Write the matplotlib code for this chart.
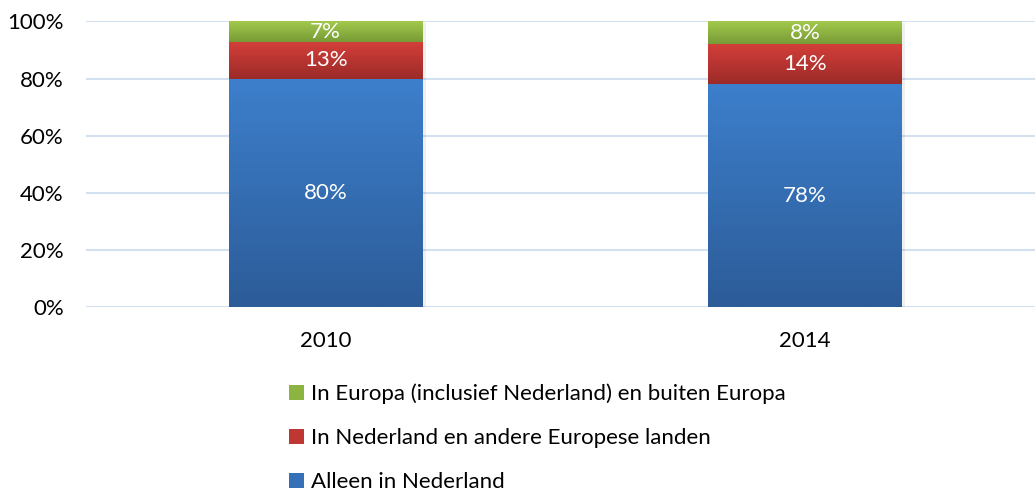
import numpy as np
import matplotlib.pyplot as plt
from matplotlib.patches import Patch
from matplotlib.colors import LinearSegmentedColormap

plt.rcParams['font.family'] = ['Lato', 'DejaVu Sans']

# Data
years = ['2010', '2014']
alleen_nl = [80, 78]
nl_europa = [13, 14]
buiten_europa = [7, 8]

series = [
    (alleen_nl, 'Alleen in Nederland', ('#3D7FCC', '#2C5C98')),
    (nl_europa, 'In Nederland en andere Europese landen', ('#D43F3A', '#9C2B28')),
    (buiten_europa, 'In Europa (inclusief Nederland) en buiten Europa', ('#A2C94C', '#789B36')),
]

fig = plt.figure(figsize=(10.35, 4.93), dpi=100)
ax = fig.add_axes([0.0831, 0.3763, 0.9169, 0.5801])

x = np.arange(len(years))
width = 0.403
bottom = np.zeros(len(years))
grad = np.linspace(1, 0, 100).reshape(-1, 1)

for vals, label, (c_top, c_bot) in series:
    vals = np.array(vals, dtype=float)
    bars = ax.bar(x, vals, width, bottom=bottom, color=c_top, label=label,
                  zorder=3, linewidth=0)
    cmap = LinearSegmentedColormap.from_list(label, [c_bot, c_top])
    for b, v in zip(bars, vals):
        x0, y0 = b.get_x(), b.get_y()
        im = ax.imshow(grad, cmap=cmap, aspect='auto', zorder=3.5,
                       extent=(x0, x0 + b.get_width(), y0, y0 + b.get_height()))
        im.set_clip_path(b)
        ax.text(b.get_x() + b.get_width() / 2, y0 + v / 2, f'{int(v)}%',
                ha='center', va='center', color='white', fontsize=16, zorder=5)
    bottom += vals

# subtle shadow at right side of bars
for xi in x:
    ax.bar(xi + 0.008, 100, width, bottom=-0.6, color='#000000', alpha=0.06,
           zorder=2.5, linewidth=0)

ax.set_xlim(-0.5, 1.48)
ax.set_ylim(0, 100)
ax.set_yticks(np.arange(0, 101, 20))
ax.set_yticklabels([f'{t}%' for t in range(0, 101, 20)])
ax.set_xticks(x)
ax.set_xticklabels(years)
ax.tick_params(axis='both', length=0, labelsize=16, colors='#000000')
ax.tick_params(axis='y', pad=16)
ax.tick_params(axis='x', pad=17)
ax.yaxis.grid(True, color='#D3E0F0', linewidth=1.5, zorder=0)
ax.set_axisbelow(True)
for s in ax.spines.values():
    s.set_visible(False)

handles = [Patch(facecolor=c, edgecolor='none') for c in
           ['#8CB441', '#BE3733', '#3670B8']]
labels = [s[1] for s in series][::-1]
fig.legend(handles, labels, loc='upper left', bbox_to_anchor=(0.279, 0.222),
           frameon=False, fontsize=16, handlelength=0.7, handleheight=0.7,
           handletextpad=0.3, labelspacing=1.08, borderpad=0, borderaxespad=0)

fig.savefig('out.png', dpi=100)
